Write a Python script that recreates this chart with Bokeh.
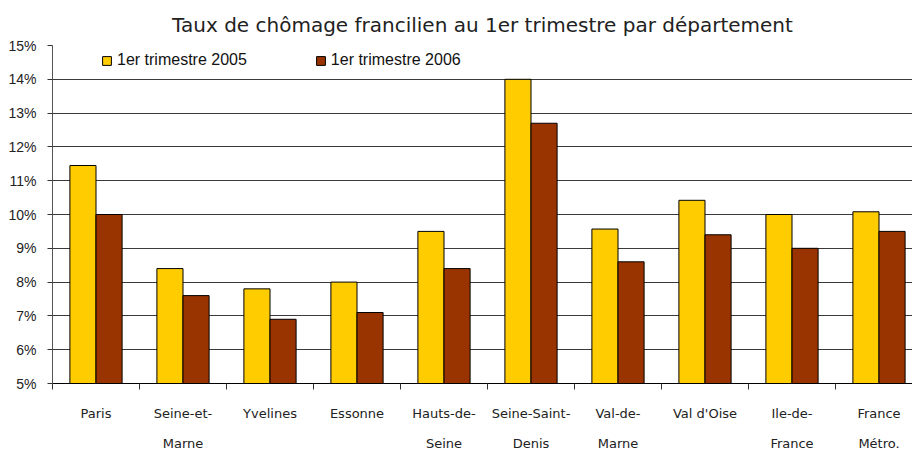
from bokeh.plotting import figure
from bokeh.models import ColumnDataSource, FixedTicker, LinearAxis, Range1d, Legend
from bokeh.transform import dodge
from bokeh.embed import file_html
from bokeh.resources import INLINE
import numpy as np

categories = ["Paris", "Seine-et-\nMarne", "Yvelines", "Essonne", "Hauts-de-\nSeine",
              "Seine-Saint-\nDenis", "Val-de-\nMarne", "Val d'Oise", "Ile-de-\nFrance", "France\nMétro."]
t2005 = [11.45, 8.4, 7.8, 8.0, 9.5, 14.0, 9.57, 10.42, 10.0, 10.08]
t2006 = [10.0, 7.6, 6.9, 7.1, 8.4, 12.7, 8.6, 9.4, 9.0, 9.5]
y_ticks = [5, 6, 7, 8, 9, 10, 11, 12, 13, 14, 15]
y_labels = ["5%", "6%", "7%", "8%", "9%", "10%", "11%", "12%", "13%", "14%", "15%"]
series_names = ["1er trimestre 2005", "1er trimestre 2006"]
colors = ["#FFCC00", "#993300"]

n = len(categories)
xc = np.arange(n) + 0.5
src = ColumnDataSource(dict(x=xc, y2005=t2005, y2006=t2006))

y_min = y_ticks[0]
p = figure(width=912, height=453, output_backend="svg", toolbar_location=None,
           x_range=Range1d(0, 9.885), y_range=Range1d(y_ticks[0], y_ticks[-1]),
           min_border_left=52, min_border_right=0, min_border_top=45, min_border_bottom=60,
           x_axis_location=None)
p.title.text = "Taux de chômage francilien au 1er trimestre par département"
p.title.align = "center"
p.title.text_font = "DejaVu Sans"
p.title.text_font_size = "20px"
p.title.text_font_style = "normal"
p.title.text_color = "#222222"
p.title.standoff = 18

r1 = p.vbar(x=dodge("x", -0.15, range=p.x_range), top="y2005", bottom=y_min, width=0.3,
            source=src, fill_color=colors[0], line_color="black", line_width=1)
r2 = p.vbar(x=dodge("x", 0.15, range=p.x_range), top="y2006", bottom=y_min, width=0.3,
            source=src, fill_color=colors[1], line_color="black", line_width=1)

# y axis
ya = p.yaxis[0]
ya.ticker = FixedTicker(ticks=y_ticks)
ya.major_label_overrides = {t: l for t, l in zip(y_ticks, y_labels)}
ya.major_label_text_font = "Liberation Sans"
ya.major_label_text_font_size = "14px"
ya.major_label_text_color = "#222222"
ya.major_tick_out = 5
ya.major_tick_in = 0
ya.minor_tick_out = 0
ya.minor_tick_in = 0
ya.axis_line_color = "#555555"
ya.major_tick_line_color = "#333333"
ya.major_label_standoff = 11

p.ygrid.ticker = FixedTicker(ticks=y_ticks)
p.ygrid.grid_line_color = "#3a3a3a"
p.ygrid.grid_line_width = 1
p.xgrid.grid_line_color = None
p.outline_line_color = None

line1 = [c.split("\n")[0] for c in categories]
line2 = [c.split("\n")[1] if "\n" in c else "" for c in categories]

xa = LinearAxis(ticker=FixedTicker(ticks=list(xc), minor_ticks=list(range(n + 1))))
xa.major_label_overrides = {float(x): t for x, t in zip(xc, line1)}
xa.major_tick_out = 0
xa.major_tick_in = 0
xa.minor_tick_out = 6
xa.minor_tick_in = 0
xa.minor_tick_line_color = "#333333"
xa.axis_line_color = "black"
xa.major_label_standoff = 16
xa.major_label_text_font = "DejaVu Sans"
xa.major_label_text_font_size = "13px"
xa.major_label_text_color = "#222222"
p.add_layout(xa, "below")

xb = LinearAxis(ticker=FixedTicker(ticks=list(xc)))
xb.major_label_overrides = {float(x): t for x, t in zip(xc, line2)}
xb.major_tick_out = 0
xb.major_tick_in = 0
xb.minor_tick_out = 0
xb.minor_tick_in = 0
xb.axis_line_color = None
xb.major_label_standoff = 12
xb.major_label_text_font = "DejaVu Sans"
xb.major_label_text_font_size = "13px"
xb.major_label_text_color = "#222222"
p.add_layout(xb, "below")

legend = Legend(items=[(series_names[0], [r1]), (series_names[1], [r2])],
                orientation="horizontal", location=(49, 314))
legend.background_fill_alpha = 0
legend.border_line_color = None
legend.glyph_width = 11
legend.glyph_height = 11
legend.label_text_font = "Liberation Sans"
legend.label_text_font_size = "16px"
legend.label_text_color = "#111111"
legend.label_standoff = 5
legend.spacing = 68
legend.padding = 5
legend.margin = 0
p.add_layout(legend, "center")

open("out.html", "w").write(file_html(p, INLINE))
